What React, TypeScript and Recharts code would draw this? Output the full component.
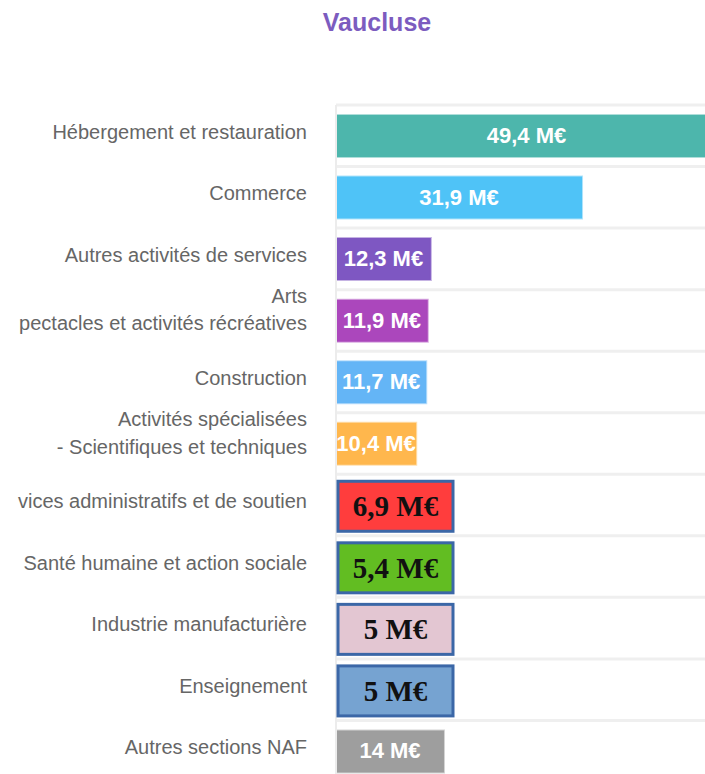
import React from 'react';
import { BarChart, Bar, XAxis, YAxis, CartesianGrid, Cell, LabelList } from 'recharts';

const sectors = [
  'Hébergement et restauration',
  'Commerce',
  'Autres activités de services',
  'Arts\npectacles et activités récréatives',
  'Construction',
  'Activités spécialisées\n- Scientifiques et techniques',
  'vices administratifs et de soutien',
  'Santé humaine et action sociale',
  'Industrie manufacturière',
  'Enseignement',
  'Autres sections NAF',
];

const amounts = [49.4, 31.9, 12.3, 11.9, 11.7, 10.4, 6.9, 5.4, 5, 5, 14];

const barColors = [
  '#4db6ac', '#4fc3f7', '#7e57c2', '#ab47bc', '#64b5f6', '#ffb74d',
  '#ff8a65', '#e57373', '#ba68c8', '#4db6ac', '#9e9e9e',
];

// rows that show a pasted box label instead of the plain white one
const boxFills = [null, null, null, null, null, null, '#ff3d3d', '#62bd22', '#e3c6d2', '#76a3d1', null];

const data = sectors.map((name, i) => ({ name, value: amounts[i] }));

const fmt = (v: number) => String(v).replace('.', ',') + ' M€';

const SectorTick = ({ x, y, payload }: any) => {
  const lines = String(payload.value).split('\n');
  return (
    <text x={x} y={y} textAnchor="end" fill="#666" fontSize={20}>
      {lines.map((l, i) => (
        <tspan key={i} x={x} y={y + 3 - (lines.length - 1) * 20.5 + i * 27.5}>
          {l}
        </tspan>
      ))}
    </text>
  );
};

const ValueLabel = (props: any) => {
  const { x, y, width, height, value, index } = props;
  const cy = y + height / 2;
  const box = boxFills[index];
  if (box) {
    return (
      <g>
        <rect x={x + 2} y={cy - 24} width={115} height={50} fill={box} stroke="#3b67a7" strokeWidth={3} />
        <text
          x={x + 2 + 57.5}
          y={cy + 11}
          textAnchor="middle"
          fill="#111"
          fontSize={29}
          fontWeight="bold"
          fontFamily="'Liberation Serif', 'Times New Roman', serif"
        >
          {fmt(value)}
        </text>
      </g>
    );
  }
  return (
    <text x={x + width / 2} y={cy + 7} textAnchor="middle" fill="#fff" fontSize={22} fontWeight="bold">
      {fmt(value)}
    </text>
  );
};

export default function App() {
  return (
    <div
      style={{
        position: 'relative',
        width: 705,
        height: 774,
        overflow: 'hidden',
        background: '#fff',
        fontFamily: "'Liberation Sans', Arial, sans-serif",
      }}
    >
      <style>{`body{margin:0;overflow:hidden}`}</style>
      <div
        style={{
          position: 'absolute',
          left: 277,
          top: 8,
          width: 200,
          textAlign: 'center',
          color: '#7c5cbf',
          fontSize: 25,
          fontWeight: 'bold',
        }}
      >
        Vaucluse
      </div>
      <div style={{ position: 'absolute', left: 10, top: 0, width: 695, height: 774, overflow: 'hidden' }}>
        <BarChart
          width={707}
          height={782}
          data={data}
          layout="vertical"
          margin={{ top: 105, right: 0, bottom: 0, left: 0 }}
        >
          <CartesianGrid
            vertical={false}
            stroke="#efefef"
            strokeWidth={3}
            horizontalCoordinatesGenerator={({ offset }: any) =>
              sectors.map((_, i) => offset.top + (i * offset.height) / sectors.length).concat(offset.top + offset.height)
            }
          />
          <XAxis type="number" domain={[0, 'dataMax']} hide />
          <YAxis
            type="category"
            dataKey="name"
            width={326}
            tickLine={false}
            tickSize={0}
            tickMargin={29}
            axisLine={{ stroke: '#ececec', strokeWidth: 2 }}
            tick={<SectorTick />}
            interval={0}
          />
          <Bar dataKey="value" barSize={42} strokeWidth={2} isAnimationActive={false}>
            {data.map((d, i) => (
              <Cell key={d.name} fill={barColors[i]} stroke={barColors[i]} strokeOpacity={0.45} />
            ))}
            <LabelList dataKey="value" content={<ValueLabel />} />
          </Bar>
        </BarChart>
      </div>
    </div>
  );
}
